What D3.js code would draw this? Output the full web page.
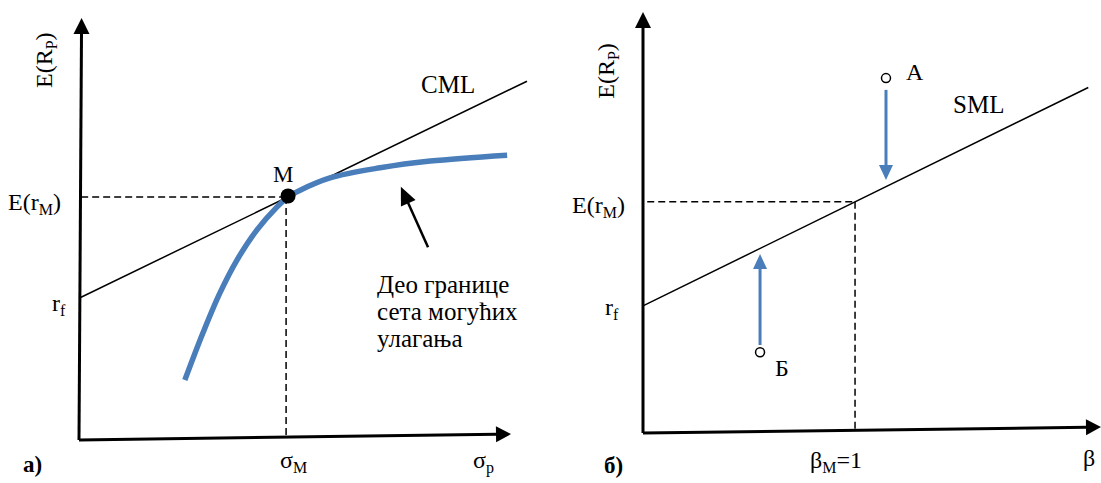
<!DOCTYPE html>
<html>
<head>
<meta charset="utf-8">
<script src="https://cdn.jsdelivr.net/npm/d3@7"></script>
</head>
<body style="margin:0">
<svg id="chart" width="1101" height="483" font-family="Liberation Serif" style="display:block"></svg>
<script>
// ---- Panel а): capital market line (CML) and the efficient frontier ----
const frontierSigma  = [24.5, 28.7, 32.6, 36.6, 41.2, 45.8, 48.4, 51.2, 58.1, 69.7, 81.3, 99.1];
const frontierReturn = [14.2, 25.4, 34.8, 42.7, 49.8, 55.2, 57.6, 59.2, 62.1, 64.5, 66.1, 67.5];
const marketSigma = 48.4;        // σ_M
const marketReturn = 57.6;       // E(r_M)
const riskFreeA = 33.6;          // r_f
const cmlEndSigma = 103.7;
const pointerFrom = [80.8, 45.7];
const pointerTo   = [74.5, 60.0];
const frontierNote = ["Део границе", "сета могућих", "улагања"];

// ---- Panel б): security market line (SML) ----
const betaMarket = 1;            // β_M = 1
const smlMarketReturn = 54.9;    // E(r_M)
const riskFreeB = 30.2;          // r_f
const smlEndBeta = 2.10;
const assetNames  = ["A", "Б"];
const assetBeta   = [1.146, 0.552];
const assetReturn = [84.3, 19.2];
const moveFrom    = [81.5, 20.9];
const moveTo      = [60.1, 42.5];

const BLUE = "#4a7ebb";
const SERIF = '"Liberation Serif"';
const svg = d3.select("#chart");

// scales
const xA = d3.scaleLinear().domain([0, 100]).range([79, 511]);
const yA = d3.scaleLinear().domain([0, 100]).range([440, 18]);
const xB = d3.scaleLinear().domain([0, 2.16]).range([643, 1101]);
const yB = d3.scaleLinear().domain([0, 100]).range([433, 12]);

// filled arrow head with its tip at (x2,y2)
function arrow(g, x1, y1, x2, y2, len, hw, color, width) {
  const dx = x2 - x1, dy = y2 - y1, L = Math.hypot(dx, dy);
  const ux = dx / L, uy = dy / L;
  const bx = x2 - ux * len, by = y2 - uy * len;
  g.append("line").attr("x1", x1).attr("y1", y1).attr("x2", bx + ux).attr("y2", by + uy)
    .attr("stroke", color).attr("stroke-width", width);
  g.append("path")
    .attr("d", `M${x2},${y2}L${bx - uy * hw},${by + ux * hw}L${bx + uy * hw},${by - ux * hw}Z`)
    .attr("fill", color);
}

function dashed(g, x1, y1, x2, y2) {
  g.append("line").attr("x1", x1).attr("y1", y1).attr("x2", x2).attr("y2", y2)
    .attr("stroke", "#000").attr("stroke-width", 1.5).attr("stroke-dasharray", "7,4");
}

function txt(g, x, y, size) {
  return g.append("text").attr("x", x).attr("y", y)
    .attr("font-family", "Liberation Serif")
    .style("font-family", SERIF)
    .attr("font-size", size).attr("fill", "#000");
}

function label(g, x, y, main, sub, size, subSize, extra) {
  const t = txt(g, x, y, size);
  t.append("tspan").text(main);
  if (sub !== undefined) {
    t.append("tspan").attr("font-size", subSize).attr("dy", 5).text(sub);
    if (extra) t.append("tspan").attr("dy", -5).text(extra);
  }
  return t;
}

function verticalTitle(g, x, y) {
  const t = txt(g, 0, 0, 24)
    .attr("transform", `translate(${x},${y}) rotate(-90)`)
    .attr("text-anchor", "middle");
  t.append("tspan").text("E(R");
  t.append("tspan").attr("font-size", 16).attr("dy", 5).text("P");
  t.append("tspan").attr("dy", -5).text(")");
}

// ================= Panel а) =================
const gA = svg.append("g");

// axes
arrow(gA, xA(0), yA(0), xA(0.6), yA(100), 16, 8, "#000", 3);
arrow(gA, xA(0), yA(0), xA(100), yA(1.4), 15, 8, "#000", 3);

// guides to the market portfolio
dashed(gA, xA(0.5), yA(marketReturn), xA(marketSigma), yA(marketReturn));
dashed(gA, xA(marketSigma) - 2, yA(marketReturn), xA(marketSigma) - 2, yA(0.7));

// capital market line
const cmlSlope = (marketReturn - riskFreeA) / marketSigma;
gA.append("line")
  .attr("x1", xA(0)).attr("y1", yA(riskFreeA))
  .attr("x2", xA(cmlEndSigma)).attr("y2", yA(riskFreeA + cmlSlope * cmlEndSigma))
  .attr("stroke", "#000").attr("stroke-width", 1.5);

// efficient frontier
const frontier = frontierSigma.map((s, i) => [s, frontierReturn[i]]);
gA.append("path")
  .datum(frontier)
  .attr("d", d3.line().x(d => xA(d[0])).y(d => yA(d[1])).curve(d3.curveCatmullRom.alpha(0.5)))
  .attr("fill", "none").attr("stroke", BLUE).attr("stroke-width", 5.5);

// market portfolio
gA.append("circle").attr("cx", xA(marketSigma)).attr("cy", yA(marketReturn) - 1).attr("r", 7.5).attr("fill", "#000");

// pointer to the frontier
arrow(gA, xA(pointerFrom[0]), yA(pointerFrom[1]), xA(pointerTo[0]), yA(pointerTo[1]), 18, 8, "#000", 2.5);

// texts
verticalTitle(gA, 52, yA(90));
label(gA, 8, yA(marketReturn) + 13, "E(r", "M", 24, 16, ")");
label(gA, 52, yA(riskFreeA) + 13, "r", "f", 24, 16);
txt(gA, xA(marketSigma) - 15, yA(marketReturn) - 15, 23).text("M");
txt(gA, 421, 93, 25).text("CML");
frontierNote.forEach((line, i) => {
  txt(gA, 377, 293 + i * 27, 25).text(line);
});
label(gA, xA(marketSigma) - 8, 468, "σ", "M", 24, 16);
label(gA, 473, 468, "σ", "p", 24, 16);
txt(gA, 23, 472, 23).attr("font-weight", "bold").text("а)");

// ================= Panel б) =================
const gB = svg.append("g");

arrow(gB, xB(0), yB(0), xB(0), yB(100), 16, 8, "#000", 3);
arrow(gB, xB(0), yB(0), xB(2.16), yB(1.4), 15, 8, "#000", 3);

dashed(gB, xB(0.02), yB(smlMarketReturn), xB(betaMarket), yB(smlMarketReturn));
dashed(gB, xB(betaMarket), yB(smlMarketReturn), xB(betaMarket), yB(0.8));

// security market line
const smlSlope = (smlMarketReturn - riskFreeB) / betaMarket;
gB.append("line")
  .attr("x1", xB(0)).attr("y1", yB(riskFreeB))
  .attr("x2", xB(smlEndBeta)).attr("y2", yB(riskFreeB + smlSlope * smlEndBeta))
  .attr("stroke", "#000").attr("stroke-width", 1.5);

// movement of mispriced assets towards the SML
assetBeta.forEach((b, i) => {
  arrow(gB, xB(b), yB(moveFrom[i]), xB(b), yB(moveTo[i]), 15, 7, BLUE, 3);
});
gB.selectAll("circle.asset").data(assetBeta).join("circle")
  .attr("class", "asset")
  .attr("cx", d => xB(d)).attr("cy", (d, i) => yB(assetReturn[i]))
  .attr("r", 4.5).attr("fill", "#fff").attr("stroke", "#000").attr("stroke-width", 1.5);
assetNames.forEach((name, i) => {
  txt(gB, xB(assetBeta[i]) + (i === 0 ? 20 : 15), yB(assetReturn[i]) + (i === 0 ? 2 : 24), 24).text(name);
});

verticalTitle(gB, 614, yB(86));
label(gB, 572, yB(smlMarketReturn) + 11, "E(r", "M", 24, 16, ")");
label(gB, 605, yB(riskFreeB) + 9, "r", "f", 24, 16);
txt(gB, 953, 113, 25).text("SML");
label(gB, xB(betaMarket) - 45, 468, "β", "M", 24, 16, "=1");
txt(gB, 1083, 466, 24).text("β");
txt(gB, 604, 473, 23).attr("font-weight", "bold").text("б)");
</script>
</body>
</html>
